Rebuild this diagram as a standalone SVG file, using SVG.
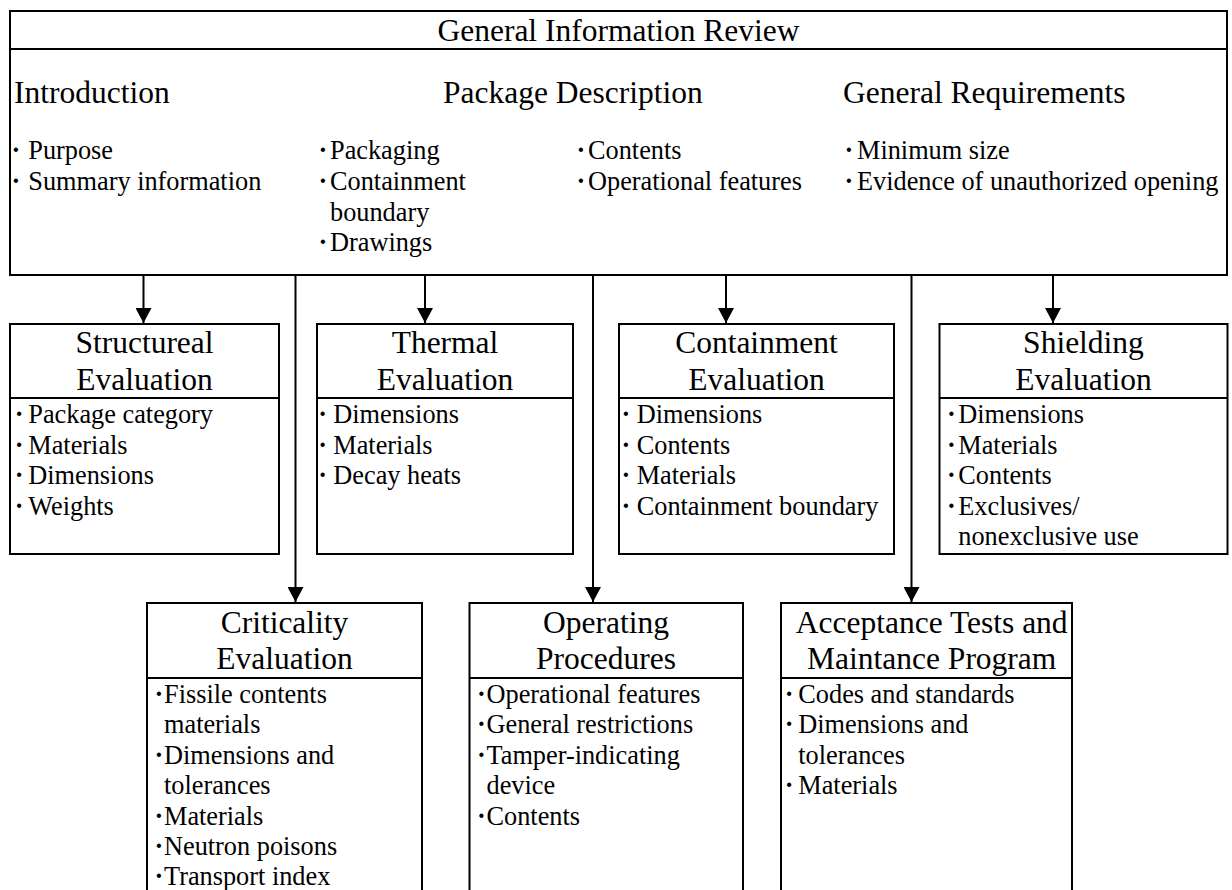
<svg xmlns="http://www.w3.org/2000/svg" width="1232" height="890" viewBox="0 0 1232 890">
<style>
  .box { fill: #ffffff; stroke: #000000; stroke-width: 2; }
  .div { stroke: #000000; stroke-width: 2; }
  .conn { stroke: #000000; stroke-width: 2; fill: none; }
  .h { font-family: "Liberation Serif", "Times New Roman", serif; font-size: 31.5px; fill: #000; }
  .hc { font-family: "Liberation Serif", "Times New Roman", serif; font-size: 31.5px; fill: #000; text-anchor: middle; }
  .it { font-family: "Liberation Serif", "Times New Roman", serif; font-size: 26.3px; fill: #000; }
  .b { font-weight: bold; }
</style>
<defs>
  <marker id="arrow" viewBox="0 0 15 16" refX="15" refY="8" markerWidth="15" markerHeight="16" markerUnits="userSpaceOnUse" orient="auto">
    <path d="M0,0 L15,8 L0,16 z" fill="#000000"/>
  </marker>
</defs>
<rect width="1232" height="890" fill="#ffffff"/>

<g id="connectors">
  <line class="conn" x1="143.5" y1="275" x2="143.5" y2="323" marker-end="url(#arrow)"/>
  <line class="conn" x1="425" y1="275" x2="425" y2="323" marker-end="url(#arrow)"/>
  <line class="conn" x1="726" y1="275" x2="726" y2="323" marker-end="url(#arrow)"/>
  <line class="conn" x1="1053" y1="275" x2="1053" y2="323" marker-end="url(#arrow)"/>
  <line class="conn" x1="295.5" y1="275" x2="295.5" y2="602" marker-end="url(#arrow)"/>
  <line class="conn" x1="593" y1="275" x2="593" y2="602" marker-end="url(#arrow)"/>
  <line class="conn" x1="911.5" y1="275" x2="911.5" y2="602" marker-end="url(#arrow)"/>
</g>

<g id="general-information-review">
  <rect class="box" x="10" y="11" width="1217" height="264"/>
  <line class="div" x1="10" y1="49" x2="1227" y2="49"/>
  <text class="hc" x="618.5" y="40.5">General Information Review</text>
  <text class="h" x="14" y="103">Introduction</text>
  <text class="h" x="443" y="103">Package Description</text>
  <text class="h" x="843" y="103">General Requirements</text>
  <text class="it" y="159"><tspan class="b" x="11.5">·</tspan><tspan x="28.3">Purpose</tspan></text>
  <text class="it" y="190"><tspan class="b" x="11.5">·</tspan><tspan x="28.3">Summary information</tspan></text>
  <text class="it" y="159"><tspan class="b" x="318.5">·</tspan><tspan x="330">Packaging</tspan></text>
  <text class="it" y="190"><tspan class="b" x="318.5">·</tspan><tspan x="330">Containment</tspan></text>
  <text class="it" x="330" y="221">boundary</text>
  <text class="it" y="251"><tspan class="b" x="318.5">·</tspan><tspan x="330">Drawings</tspan></text>
  <text class="it" y="159"><tspan class="b" x="576.5">·</tspan><tspan x="588">Contents</tspan></text>
  <text class="it" y="190"><tspan class="b" x="576.5">·</tspan><tspan x="588">Operational features</tspan></text>
  <text class="it" y="159"><tspan class="b" x="844.5">·</tspan><tspan x="857">Minimum size</tspan></text>
  <text class="it" y="190"><tspan class="b" x="844.5">·</tspan><tspan x="857">Evidence of unauthorized opening</tspan></text>
</g>

<g id="structural-evaluation">
  <rect class="box" x="10" y="324" width="269" height="230"/>
  <line class="div" x1="10" y1="398" x2="279" y2="398"/>
  <text class="hc" x="144.5" y="353">Structureal</text>
  <text class="hc" x="144.5" y="389.5">Evaluation</text>
  <text class="it" y="423"><tspan class="b" x="14.8">·</tspan><tspan x="28.3">Package category</tspan></text>
  <text class="it" y="453.5"><tspan class="b" x="14.8">·</tspan><tspan x="28.3">Materials</tspan></text>
  <text class="it" y="484"><tspan class="b" x="14.8">·</tspan><tspan x="28.3">Dimensions</tspan></text>
  <text class="it" y="514.5"><tspan class="b" x="14.8">·</tspan><tspan x="28.3">Weights</tspan></text>
</g>

<g id="thermal-evaluation">
  <rect class="box" x="317" y="324" width="256" height="230"/>
  <line class="div" x1="317" y1="398" x2="573" y2="398"/>
  <text class="hc" x="445" y="353">Thermal</text>
  <text class="hc" x="445" y="389.5">Evaluation</text>
  <text class="it" y="423"><tspan class="b" x="318.2">·</tspan><tspan x="333.3">Dimensions</tspan></text>
  <text class="it" y="453.5"><tspan class="b" x="318.2">·</tspan><tspan x="333.3">Materials</tspan></text>
  <text class="it" y="484"><tspan class="b" x="318.2">·</tspan><tspan x="333.3">Decay heats</tspan></text>
</g>

<g id="containment-evaluation">
  <rect class="box" x="619" y="324" width="275" height="230"/>
  <line class="div" x1="619" y1="398" x2="894" y2="398"/>
  <text class="hc" x="756.5" y="353">Containment</text>
  <text class="hc" x="756.5" y="389.5">Evaluation</text>
  <text class="it" y="423"><tspan class="b" x="621.5">·</tspan><tspan x="636.7">Dimensions</tspan></text>
  <text class="it" y="453.5"><tspan class="b" x="621.5">·</tspan><tspan x="636.7">Contents</tspan></text>
  <text class="it" y="484"><tspan class="b" x="621.5">·</tspan><tspan x="636.7">Materials</tspan></text>
  <text class="it" y="514.5"><tspan class="b" x="621.5">·</tspan><tspan x="636.7">Containment boundary</tspan></text>
</g>

<g id="shielding-evaluation">
  <rect class="box" x="939.5" y="324" width="288" height="230"/>
  <line class="div" x1="939.5" y1="398" x2="1227.5" y2="398"/>
  <text class="hc" x="1083.5" y="353">Shielding</text>
  <text class="hc" x="1083.5" y="389.5">Evaluation</text>
  <text class="it" y="423"><tspan class="b" x="947">·</tspan><tspan x="958.3">Dimensions</tspan></text>
  <text class="it" y="453.5"><tspan class="b" x="947">·</tspan><tspan x="958.3">Materials</tspan></text>
  <text class="it" y="484"><tspan class="b" x="947">·</tspan><tspan x="958.3">Contents</tspan></text>
  <text class="it" y="514.5"><tspan class="b" x="947">·</tspan><tspan x="958.3">Exclusives/</tspan></text>
  <text class="it" x="958.3" y="545">nonexclusive use</text>
</g>

<g id="criticality-evaluation">
  <rect class="box" x="147" y="603" width="275" height="300"/>
  <line class="div" x1="147" y1="678" x2="422" y2="678"/>
  <text class="hc" x="284.5" y="633">Criticality</text>
  <text class="hc" x="284.5" y="669">Evaluation</text>
  <text class="it" y="702.7"><tspan class="b" x="154.5">·</tspan><tspan x="164">Fissile contents</tspan></text>
  <text class="it" x="164" y="733.2">materials</text>
  <text class="it" y="763.6"><tspan class="b" x="154.5">·</tspan><tspan x="164">Dimensions and</tspan></text>
  <text class="it" x="164" y="794">tolerances</text>
  <text class="it" y="824.5"><tspan class="b" x="154.5">·</tspan><tspan x="164">Materials</tspan></text>
  <text class="it" y="855"><tspan class="b" x="154.5">·</tspan><tspan x="164">Neutron poisons</tspan></text>
  <text class="it" y="885.4"><tspan class="b" x="154.5">·</tspan><tspan x="164">Transport index</tspan></text>
</g>

<g id="operating-procedures">
  <rect class="box" x="469.5" y="603" width="273.5" height="300"/>
  <line class="div" x1="469.5" y1="678" x2="743" y2="678"/>
  <text class="hc" x="606" y="633">Operating</text>
  <text class="hc" x="606" y="669">Procedures</text>
  <text class="it" y="702.7"><tspan class="b" x="477">·</tspan><tspan x="486.5">Operational features</tspan></text>
  <text class="it" y="733.2"><tspan class="b" x="477">·</tspan><tspan x="486.5">General restrictions</tspan></text>
  <text class="it" y="763.6"><tspan class="b" x="477">·</tspan><tspan x="486.5">Tamper-indicating</tspan></text>
  <text class="it" x="486.5" y="794">device</text>
  <text class="it" y="824.5"><tspan class="b" x="477">·</tspan><tspan x="486.5">Contents</tspan></text>
</g>

<g id="acceptance-tests">
  <rect class="box" x="781" y="603" width="291" height="300"/>
  <line class="div" x1="781" y1="678" x2="1072" y2="678"/>
  <text class="hc" x="931.7" y="633">Acceptance Tests and</text>
  <text class="hc" x="931.7" y="669">Maintance Program</text>
  <text class="it" y="702.7"><tspan class="b" x="784.8">·</tspan><tspan x="798.3">Codes and standards</tspan></text>
  <text class="it" y="733.2"><tspan class="b" x="784.8">·</tspan><tspan x="798.3">Dimensions and</tspan></text>
  <text class="it" x="798.3" y="763.6">tolerances</text>
  <text class="it" y="794"><tspan class="b" x="784.8">·</tspan><tspan x="798.3">Materials</tspan></text>
</g>
</svg>
